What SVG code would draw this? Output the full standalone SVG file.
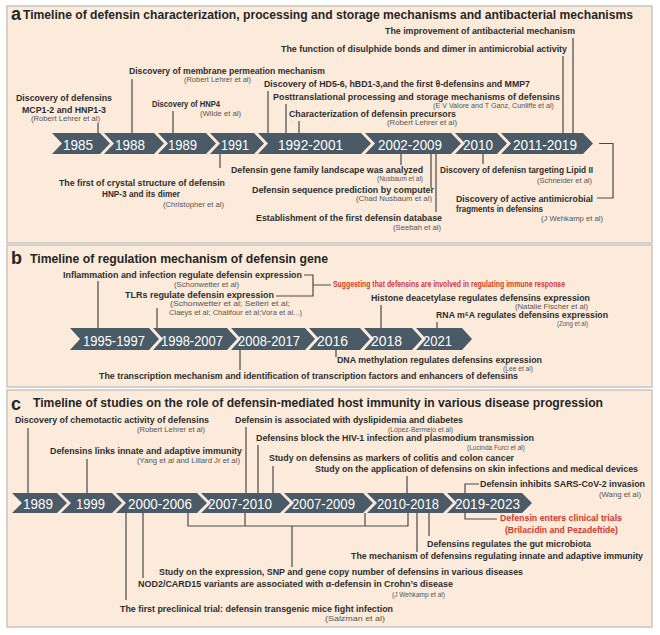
<svg xmlns="http://www.w3.org/2000/svg" width="660" height="635" viewBox="0 0 660 635">
<style>
text{font-family:"Liberation Sans",Arial,Helvetica,sans-serif}
.pn{fill:#fcebdb;stroke:#c9c4bf;stroke-width:1.5}
.ttl{font-size:12.5px;font-weight:bold;fill:#262626}
.let{font-size:18px;font-weight:bold;fill:#262626}
.lb{font-size:9px;font-weight:bold;fill:#2e2e2e}
.ct{font-size:7px;fill:#555}
.rd{font-size:9px;font-weight:bold;fill:#d8382e}
.yr{font-size:15.5px;fill:#fff}
.cv{fill:#4a5a67}
.cn{fill:none;stroke:#4a4a4a;stroke-width:1.2}
</style>
<rect width="660" height="635" fill="#fff"/>
<rect class="pn" x="7" y="6" width="645" height="237"/>
<rect class="pn" x="7" y="245" width="645" height="142"/>
<rect class="pn" x="7" y="390" width="645" height="237"/>

<g id="titles">
<text class="let" x="11" y="20">a</text>
<text class="ttl" x="23" y="18.5" textLength="610" lengthAdjust="spacingAndGlyphs">Timeline of defensin characterization, processing and storage mechanisms and antibacterial mechanisms</text>
<text class="let" x="11" y="264">b</text>
<text class="ttl" x="30" y="263" textLength="298" lengthAdjust="spacingAndGlyphs">Timeline of regulation mechanism of defensin gene</text>
<text class="let" x="11" y="410">c</text>
<text class="ttl" x="33" y="407" textLength="570" lengthAdjust="spacingAndGlyphs">Timeline of studies on the role of defensin-mediated host immunity in various disease progression</text>
</g>

<g id="connectors">
<path class="cn" d="M98,123V133M132,79V133M173,111V133M220,154V168M268,91V133M286,104V133M299,121V133M401,154V165M431,154V188M436,154V212M483,154V164M563,56V133M573,38V133M599,143.5H613V198H597"/>
<path class="cn" d="M98,281V328M157,308V328M304,275H313V296H276M313,285H331M381,305V328M437,322V328M240,350V370M336,350V357"/>
<path class="cn" d="M28,428V493M87,459V493M246,427V493M258,445V493M273,466V493M407,476V493M479,484H465V493M465,513V519H497M126,513V600M143,513V578M188,513V526H408V513M245,513V526M365,513V526M292,526V567M417,513V552M429,513V536"/>
</g>

<g id="timeline-a">
<g id="a-1985"><polygon class="cv" points="52,133 100,133 110,143.5 100,154 52,154 62,143.5"/><text class="yr" x="63" y="149.5" textLength="30" lengthAdjust="spacingAndGlyphs">1985</text></g>
<g id="a-1988"><polygon class="cv" points="104,133 154,133 164,143.5 154,154 104,154 114,143.5"/><text class="yr" x="115" y="149.5" textLength="30" lengthAdjust="spacingAndGlyphs">1988</text></g>
<g id="a-1989"><polygon class="cv" points="158,133 206,133 216,143.5 206,154 158,154 168,143.5"/><text class="yr" x="168" y="149.5" textLength="29" lengthAdjust="spacingAndGlyphs">1989</text></g>
<g id="a-1991"><polygon class="cv" points="210,133 254,133 264,143.5 254,154 210,154 220,143.5"/><text class="yr" x="221" y="149.5" textLength="28" lengthAdjust="spacingAndGlyphs">1991</text></g>
<g id="a-1992"><polygon class="cv" points="258,133 361,133 371,143.5 361,154 258,154 268,143.5"/><text class="yr" x="278" y="149.5" textLength="65" lengthAdjust="spacingAndGlyphs">1992-2001</text></g>
<g id="a-2002"><polygon class="cv" points="365,133 451,133 461,143.5 451,154 365,154 375,143.5"/><text class="yr" x="378" y="149.5" textLength="64" lengthAdjust="spacingAndGlyphs">2002-2009</text></g>
<g id="a-2010"><polygon class="cv" points="455,133 497,133 507,143.5 497,154 455,154 465,143.5"/><text class="yr" x="463" y="149.5" textLength="30" lengthAdjust="spacingAndGlyphs">2010</text></g>
<g id="a-2011"><polygon class="cv" points="501,133 583,133 593,143.5 583,154 501,154 511,143.5"/><text class="yr" x="513" y="149.5" textLength="64" lengthAdjust="spacingAndGlyphs">2011-2019</text></g>
</g>

<g id="events-a">
<g id="a-e1"><text class="lb" x="385" y="34" textLength="190" lengthAdjust="spacingAndGlyphs">The improvement of antibacterial mechanism</text></g>
<g id="a-e2"><text class="lb" x="281" y="52" textLength="286" lengthAdjust="spacingAndGlyphs">The function of disulphide bonds and dimer in antimicrobial activity</text></g>
<g id="a-e3"><text class="lb" x="129" y="74" textLength="196" lengthAdjust="spacingAndGlyphs">Discovery of membrane permeation mechanism</text><text class="ct" x="184" y="82" textLength="67" lengthAdjust="spacingAndGlyphs">(Robert Lehrer et al)</text></g>
<g id="a-e4"><text class="lb" x="264" y="87" textLength="266" lengthAdjust="spacingAndGlyphs">Discovery of HD5-6, hBD1-3,and the first θ-defensins and MMP7</text></g>
<g id="a-e5"><text class="lb" x="273" y="100" textLength="287" lengthAdjust="spacingAndGlyphs">Posttranslational processing and storage mechanisms of defensins</text><text class="ct" x="433" y="108" textLength="121" lengthAdjust="spacingAndGlyphs">(E V Valore and T Ganz, Cunliffe et al)</text></g>
<g id="a-e6"><text class="lb" x="289" y="117" textLength="167" lengthAdjust="spacingAndGlyphs">Characterization of defensin precursors</text><text class="ct" x="387" y="125" textLength="70" lengthAdjust="spacingAndGlyphs">(Robert Lehrer et al)</text></g>
<g id="a-e7"><text class="lb" x="16" y="101" textLength="96" lengthAdjust="spacingAndGlyphs">Discovery of defensins</text><text class="lb" x="22" y="112.5" textLength="84" lengthAdjust="spacingAndGlyphs">MCP1-2 and HNP1-3</text><text class="ct" x="31" y="121" textLength="69" lengthAdjust="spacingAndGlyphs">(Robert Lehrer et al)</text></g>
<g id="a-e8"><text class="lb" x="152" y="107" textLength="68" lengthAdjust="spacingAndGlyphs">Discovery of HNP4</text><text class="ct" x="200" y="116" textLength="41" lengthAdjust="spacingAndGlyphs">(Wilde et al)</text></g>
<g id="a-e9"><text class="lb" x="59" y="186" textLength="166" lengthAdjust="spacingAndGlyphs">The first of crystal structure of defensin</text><text class="lb" x="102" y="197" textLength="78" lengthAdjust="spacingAndGlyphs">HNP-3 and its dimer</text><text class="ct" x="163" y="207" textLength="61" lengthAdjust="spacingAndGlyphs">(Christopher et al)</text></g>
<g id="a-e10"><text class="lb" x="231" y="173" textLength="192" lengthAdjust="spacingAndGlyphs">Defensin gene family landscape was analyzed</text><text class="ct" x="377" y="180.5" textLength="46" lengthAdjust="spacingAndGlyphs">(Nusbaum et al)</text></g>
<g id="a-e11"><text class="lb" x="252" y="193" textLength="182" lengthAdjust="spacingAndGlyphs">Defensin sequence prediction by computer</text><text class="ct" x="356" y="200.5" textLength="76" lengthAdjust="spacingAndGlyphs">(Chad Nusbaum et al)</text></g>
<g id="a-e12"><text class="lb" x="256" y="221" textLength="186" lengthAdjust="spacingAndGlyphs">Establishment of the first defensin database</text><text class="ct" x="393" y="230" textLength="48" lengthAdjust="spacingAndGlyphs">(Seebah et al)</text></g>
<g id="a-e13"><text class="lb" x="440" y="173" textLength="153" lengthAdjust="spacingAndGlyphs">Discovery of defenisn targeting Lipid II</text><text class="ct" x="537" y="183" textLength="55" lengthAdjust="spacingAndGlyphs">(Schneider et al)</text></g>
<g id="a-e14"><text class="lb" x="456" y="202" textLength="137" lengthAdjust="spacingAndGlyphs">Discovery of active antimicrobial</text><text class="lb" x="456" y="212" textLength="87" lengthAdjust="spacingAndGlyphs">fragments in defensins</text><text class="ct" x="541" y="221" textLength="62" lengthAdjust="spacingAndGlyphs">(J Wehkamp et al)</text></g>
</g>

<g id="timeline-b">
<g id="b-1995"><polygon class="cv" points="70,328 149,328 159,339 149,350 70,350 80,339"/><text class="yr" x="83" y="345.5" textLength="62" lengthAdjust="spacingAndGlyphs">1995-1997</text></g>
<g id="b-1998"><polygon class="cv" points="153,328 227,328 237,339 227,350 153,350 163,339"/><text class="yr" x="161" y="345.5" textLength="62" lengthAdjust="spacingAndGlyphs">1998-2007</text></g>
<g id="b-2008"><polygon class="cv" points="231,328 305,328 315,339 305,350 231,350 241,339"/><text class="yr" x="238" y="345.5" textLength="62" lengthAdjust="spacingAndGlyphs">2008-2017</text></g>
<g id="b-2016"><polygon class="cv" points="309,328 360,328 370,339 360,350 309,350 319,339"/><text class="yr" x="317" y="345.5" textLength="31" lengthAdjust="spacingAndGlyphs">2016</text></g>
<g id="b-2018"><polygon class="cv" points="364,328 412,328 422,339 412,350 364,350 374,339"/><text class="yr" x="371" y="345.5" textLength="31" lengthAdjust="spacingAndGlyphs">2018</text></g>
<g id="b-2021"><polygon class="cv" points="416,328 462,328 472,339 462,350 416,350 426,339"/><text class="yr" x="423" y="345.5" textLength="29" lengthAdjust="spacingAndGlyphs">2021</text></g>
</g>

<g id="events-b">
<g id="b-e1"><text class="lb" x="63" y="278" textLength="239" lengthAdjust="spacingAndGlyphs">Inflammation and infection regulate defensin expression</text><text class="ct" x="174" y="287" textLength="65" lengthAdjust="spacingAndGlyphs">(Schonwetter et al)</text></g>
<g id="b-e2"><text class="lb" x="125" y="298" textLength="149" lengthAdjust="spacingAndGlyphs">TLRs regulate defensin expression</text><text class="ct" x="170" y="305.5" textLength="120" lengthAdjust="spacingAndGlyphs">(Schonwetter et al; Selleri et al;</text><text class="ct" x="169" y="315" textLength="133" lengthAdjust="spacingAndGlyphs">Claeys et al; Chalifour et al;Vora et al...)</text></g>
<g id="b-e3"><text class="rd" x="333" y="287" textLength="232" lengthAdjust="spacingAndGlyphs">Suggesting that defensins are involved in regulating immune response</text></g>
<g id="b-e4"><text class="lb" x="371" y="301" textLength="219" lengthAdjust="spacingAndGlyphs">Histone deacetylase regulates defensins expression</text><text class="ct" x="515" y="308.5" textLength="73" lengthAdjust="spacingAndGlyphs">(Natalie Fischer et al)</text></g>
<g id="b-e5"><text class="lb" x="436" y="318" textLength="172" lengthAdjust="spacingAndGlyphs">RNA m⁶A regulates defensins expression</text><text class="ct" x="557" y="325.5" textLength="31" lengthAdjust="spacingAndGlyphs">(Zong et al)</text></g>
<g id="b-e6"><text class="lb" x="99" y="378.5" textLength="419" lengthAdjust="spacingAndGlyphs">The transcription mechanism and identification of transcription factors and enhancers of defensins</text></g>
<g id="b-e7"><text class="lb" x="337" y="363" textLength="205" lengthAdjust="spacingAndGlyphs">DNA methylation regulates defensins expression</text><text class="ct" x="503" y="371" textLength="30" lengthAdjust="spacingAndGlyphs">(Lee et al)</text></g>
</g>

<g id="timeline-c">
<g id="c-1989"><polygon class="cv" points="12,493 57,493 67,503 57,513 12,513 22,503"/><text class="yr" x="23" y="508.5" textLength="30" lengthAdjust="spacingAndGlyphs">1989</text></g>
<g id="c-1999"><polygon class="cv" points="61,493 112,493 122,503 112,513 61,513 71,503"/><text class="yr" x="76" y="508.5" textLength="29" lengthAdjust="spacingAndGlyphs">1999</text></g>
<g id="c-2000"><polygon class="cv" points="116,493 197,493 207,503 197,513 116,513 126,503"/><text class="yr" x="128" y="508.5" textLength="64" lengthAdjust="spacingAndGlyphs">2000-2006</text></g>
<g id="c-2007a"><polygon class="cv" points="201,493 280,493 290,503 280,513 201,513 211,503"/><text class="yr" x="208" y="508.5" textLength="64" lengthAdjust="spacingAndGlyphs">2007-2010</text></g>
<g id="c-2007b"><polygon class="cv" points="284,493 363,493 373,503 363,513 284,513 294,503"/><text class="yr" x="292" y="508.5" textLength="63" lengthAdjust="spacingAndGlyphs">2007-2009</text></g>
<g id="c-2010"><polygon class="cv" points="367,493 443,493 453,503 443,513 367,513 377,503"/><text class="yr" x="377" y="508.5" textLength="62" lengthAdjust="spacingAndGlyphs">2010-2018</text></g>
<g id="c-2019"><polygon class="cv" points="447,493 522,493 532,503 522,513 447,513 457,503"/><text class="yr" x="455" y="508.5" textLength="65" lengthAdjust="spacingAndGlyphs">2019-2023</text></g>
</g>

<g id="events-c">
<g id="c-e1"><text class="lb" x="15" y="423" textLength="194" lengthAdjust="spacingAndGlyphs">Discovery of chemotactic activity of defensins</text><text class="ct" x="137" y="431.5" textLength="68" lengthAdjust="spacingAndGlyphs">(Robert Lehrer et al)</text></g>
<g id="c-e2"><text class="lb" x="50" y="454" textLength="192" lengthAdjust="spacingAndGlyphs">Defensins links innate and adaptive immunity</text><text class="ct" x="137" y="463" textLength="103" lengthAdjust="spacingAndGlyphs">(Yang et al and Lillard Jr et al)</text></g>
<g id="c-e3"><text class="lb" x="235" y="423" textLength="228" lengthAdjust="spacingAndGlyphs">Defensin is associated with dyslipidemia and diabetes</text><text class="ct" x="388" y="431.5" textLength="65" lengthAdjust="spacingAndGlyphs">(López-Bermejo et al)</text></g>
<g id="c-e4"><text class="lb" x="256" y="441" textLength="278" lengthAdjust="spacingAndGlyphs">Defensins block the HIV-1 infection and plasmodium transmission</text><text class="ct" x="467" y="449.5" textLength="58" lengthAdjust="spacingAndGlyphs">(Lucinda Furci et al)</text></g>
<g id="c-e5"><text class="lb" x="269" y="461" textLength="245" lengthAdjust="spacingAndGlyphs">Study on defensins as markers of colitis and colon cancer</text></g>
<g id="c-e6"><text class="lb" x="315" y="472" textLength="323" lengthAdjust="spacingAndGlyphs">Study on the application of defensins on skin infections and medical devices</text></g>
<g id="c-e7"><text class="lb" x="480" y="487" textLength="165" lengthAdjust="spacingAndGlyphs">Defensin inhibits SARS-CoV-2 invasion</text><text class="ct" x="599" y="497" textLength="42" lengthAdjust="spacingAndGlyphs">(Wang et al)</text></g>
<g id="c-e8"><text class="rd" x="500" y="521" textLength="122" lengthAdjust="spacingAndGlyphs">Defensin enters clinical trials</text><text class="rd" x="505" y="533" textLength="113" lengthAdjust="spacingAndGlyphs">(Brilacidin and Pezadeftide)</text></g>
<g id="c-e9"><text class="lb" x="427" y="547" textLength="164" lengthAdjust="spacingAndGlyphs">Defensins regulates the gut microbiota</text></g>
<g id="c-e10"><text class="lb" x="351" y="558.5" textLength="292" lengthAdjust="spacingAndGlyphs">The mechanism of defensins regulating innate and adaptive immunity</text></g>
<g id="c-e11"><text class="lb" x="159" y="575" textLength="364" lengthAdjust="spacingAndGlyphs">Study on the expression, SNP and gene copy number of defensins in various diseases</text></g>
<g id="c-e12"><text class="lb" x="138" y="587" textLength="315" lengthAdjust="spacingAndGlyphs">NOD2/CARD15 variants  are associated with α-defensin in Crohn’s disease</text><text class="ct" x="392" y="597" textLength="53" lengthAdjust="spacingAndGlyphs">(J Wehkamp et al)</text></g>
<g id="c-e13"><text class="lb" x="120" y="612" textLength="273" lengthAdjust="spacingAndGlyphs">The first preclinical trial: defensin transgenic mice fight infection</text><text class="ct" x="325" y="620.5" textLength="60" lengthAdjust="spacingAndGlyphs">(Salzman et al)</text></g>
</g>
</svg>
